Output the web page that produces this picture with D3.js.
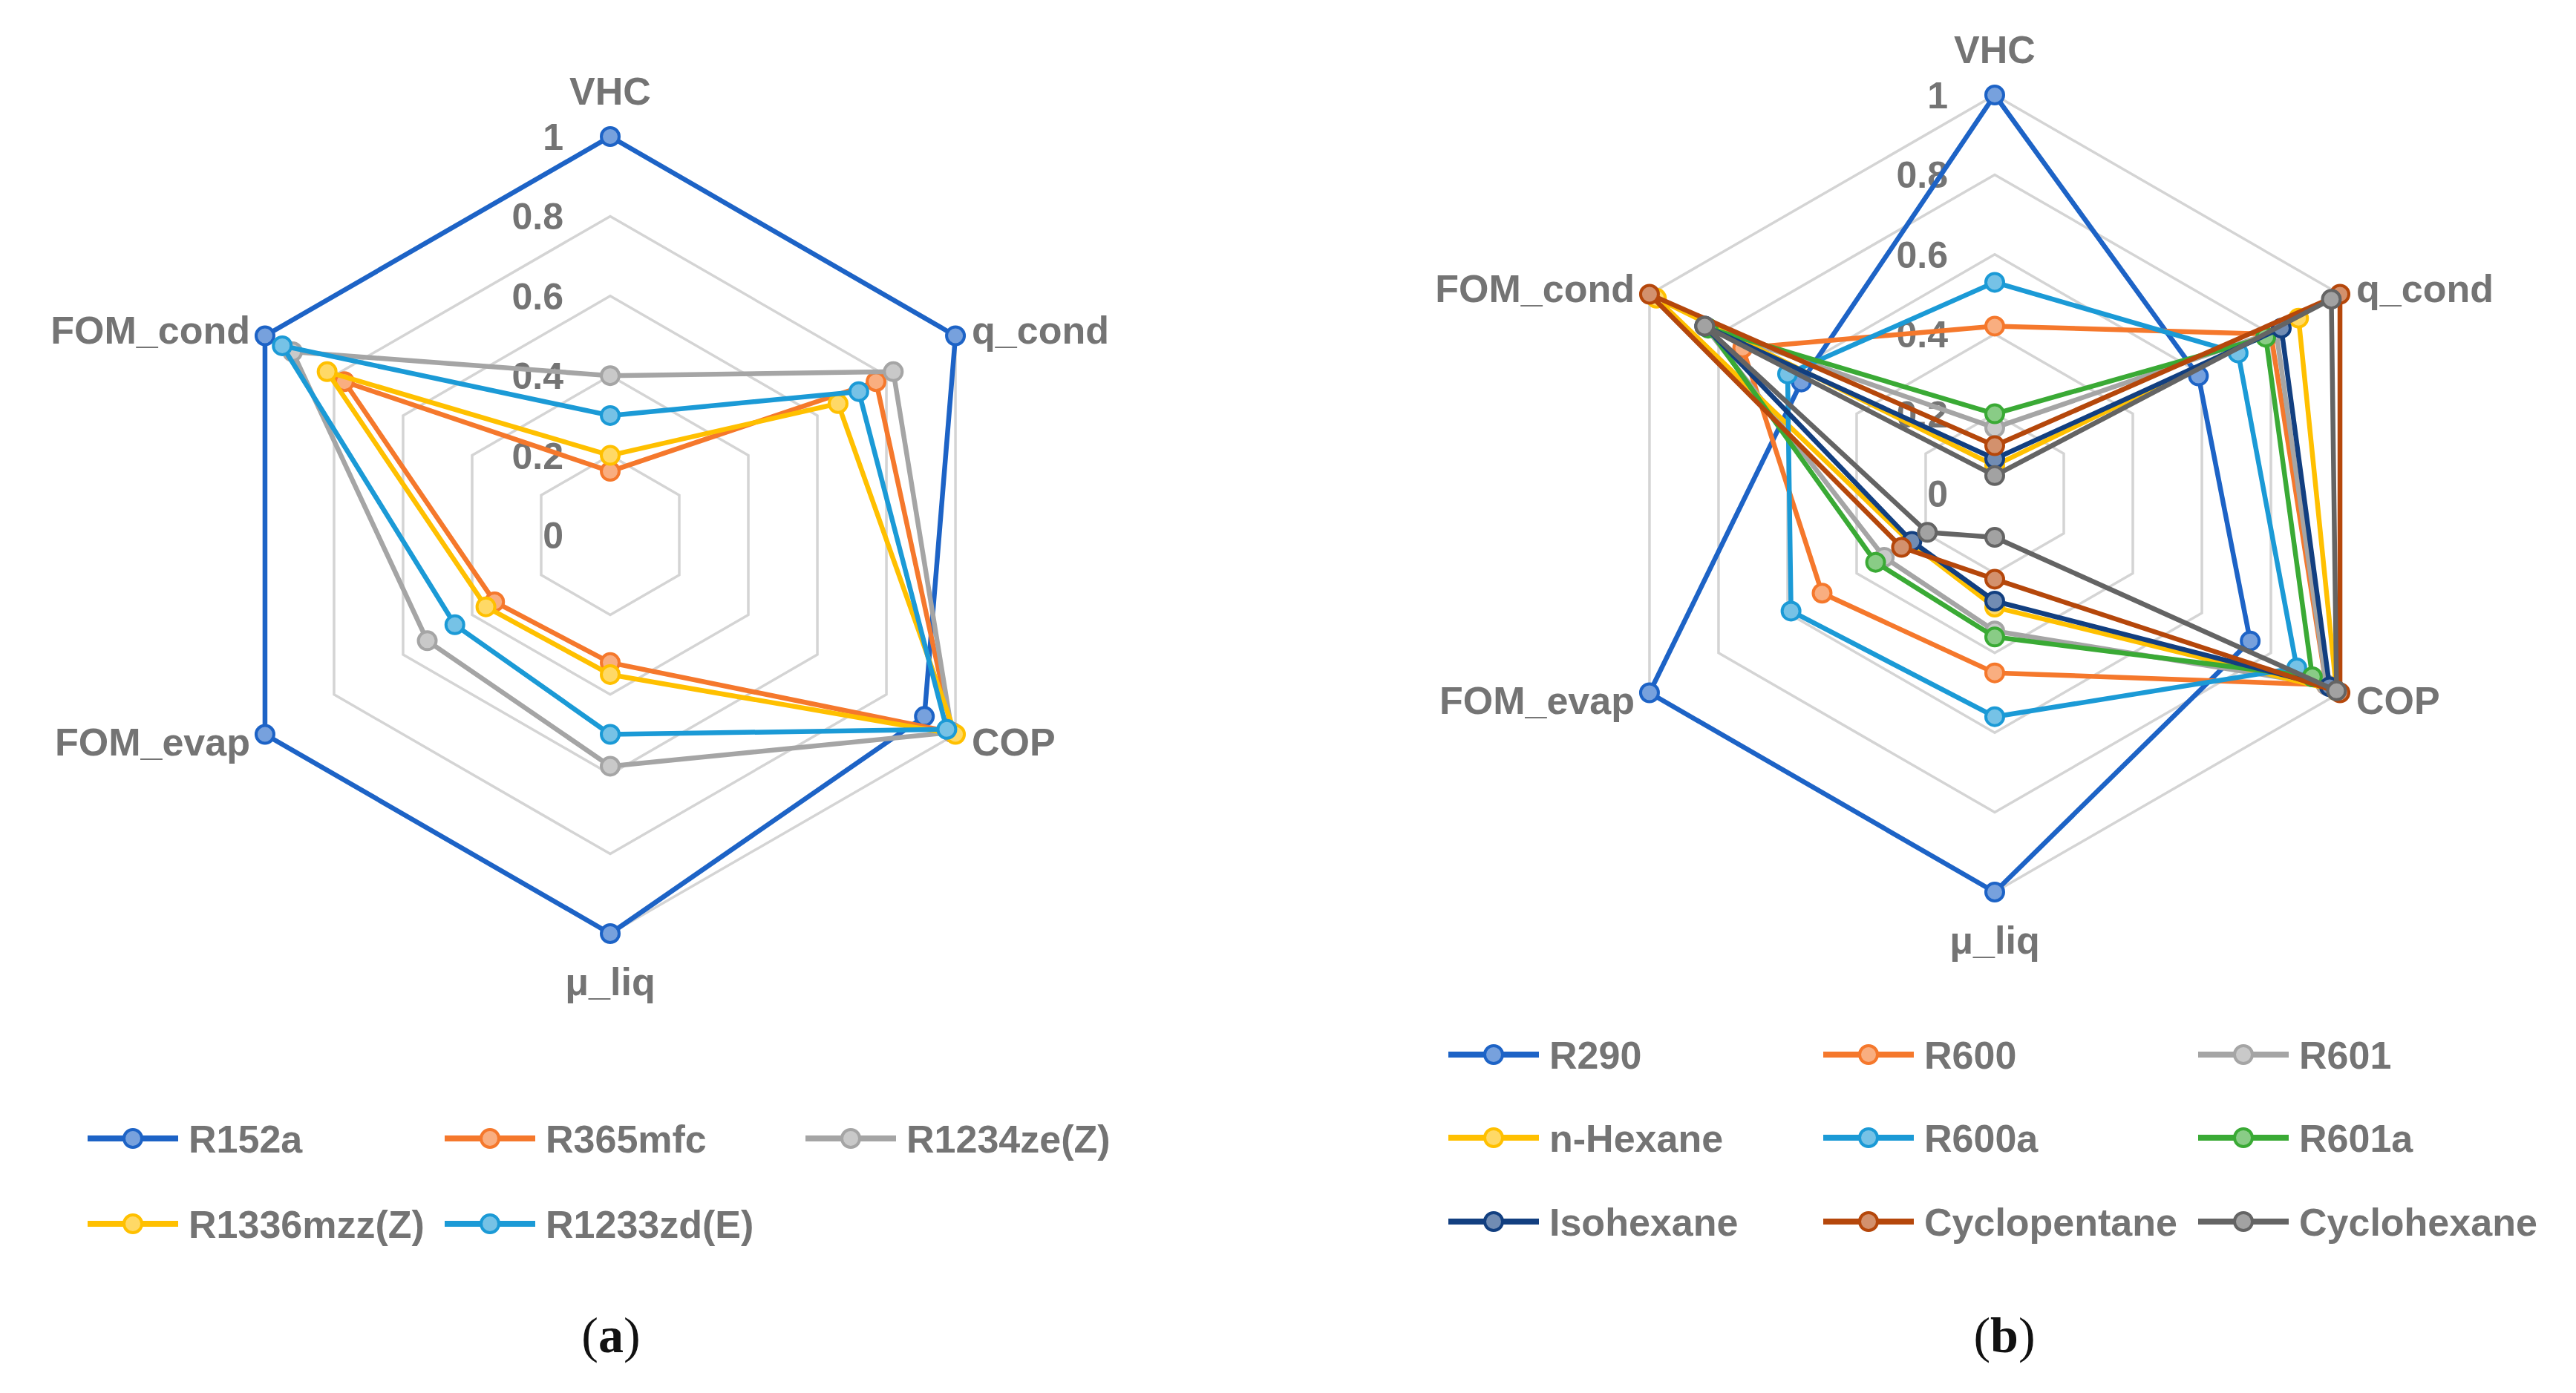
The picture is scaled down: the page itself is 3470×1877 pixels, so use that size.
<!DOCTYPE html>
<html>
<head>
<meta charset="utf-8">
<script src="https://cdn.jsdelivr.net/npm/d3@7"></script>
<style>
  html, body { margin: 0; padding: 0; background: #fff; }
  svg { display: block; }
  .axis-label, .tick-label, .legend-label { font-family: "Liberation Sans", Arial, sans-serif; font-weight: bold; fill: #747474; }
  .caption { font-family: "Liberation Serif", "Times New Roman", serif; fill: #111; }
</style>
</head>
<body>
<svg id="chart" width="3470" height="1877"></svg>
<script>
// axes, clockwise from the top
var axisNames = ["VHC", "q_cond", "COP", "\u03bc_liq", "FOM_evap", "FOM_cond"];
var tickValues = [0, 0.2, 0.4, 0.6, 0.8, 1];

// (a) HFO / HFC fluids
var seriesA = ["R152a", "R365mfc", "R1234ze(Z)", "R1336mzz(Z)", "R1233zd(E)"];
var colorsA = ["#1d63c6", "#f5782c", "#a5a5a5", "#ffc000", "#1b9ad6"];
var valR152a     = [1.00, 1.00, 0.91, 1.00, 1.00, 1.00];
var valR365mfc   = [0.16, 0.77, 0.99, 0.32, 0.335, 0.77];
var valR1234zeZ  = [0.40, 0.82, 0.99, 0.58, 0.53, 0.92];
var valR1336mzzZ = [0.20, 0.66, 1.00, 0.35, 0.36, 0.82];
var valR1233zdE  = [0.30, 0.72, 0.975, 0.50, 0.45, 0.95];

// (b) hydrocarbons
var seriesB = ["R290", "R600", "R601", "n-Hexane", "R600a", "R601a", "Isohexane", "Cyclopentane", "Cyclohexane"];
var colorsB = ["#1d63c6", "#f5782c", "#a5a5a5", "#ffc000", "#1b9ad6", "#3aaa35", "#123f80", "#b5470b", "#646464"];
var valR290         = [1.00, 0.59, 0.74, 1.00, 1.00, 0.56];
var valR600         = [0.42, 0.80, 0.96, 0.45, 0.50, 0.73];
var valR601         = [0.165, 0.815, 0.96, 0.345, 0.32, 0.84];
var valNHexane      = [0.07, 0.88, 0.99, 0.285, 0.245, 0.98];
var valR600a        = [0.53, 0.705, 0.875, 0.56, 0.59, 0.60];
var valR601a        = [0.20, 0.785, 0.92, 0.36, 0.345, 0.83];
var valIsohexane    = [0.087, 0.83, 0.97, 0.27, 0.24, 0.84];
var valCyclopentane = [0.12, 1.00, 1.00, 0.215, 0.27, 1.00];
var valCyclohexane  = [0.045, 0.975, 0.99, 0.11, 0.195, 0.84];

var valuesA = [valR152a, valR365mfc, valR1234zeZ, valR1336mzzZ, valR1233zdE];
var valuesB = [valR290, valR600, valR601, valNHexane, valR600a, valR601a, valIsohexane, valCyclopentane, valCyclohexane];

var svg = d3.select("#chart");
svg.append("rect").attr("width", 3470).attr("height", 1877).attr("fill", "#fff");

function radar(opts) {
  var R = 537;
  var r = d3.scaleLinear().domain([0, 1]).range([0, R]);
  var angle = d3.scalePoint().domain(d3.range(axisNames.length + 1)).range([0, 2 * Math.PI]);
  var g = svg.append("g").attr("transform", "translate(" + opts.cx + "," + opts.cy + ")");

  var ring = d3.lineRadial()
    .angle(function (d, i) { return angle(i); })
    .radius(function (d) { return r(d); })
    .curve(d3.curveLinearClosed);

  g.selectAll(".grid").data(tickValues.slice(1)).enter().append("path")
    .attr("d", function (v) { return ring(axisNames.map(function () { return v; })); })
    .attr("fill", "none").attr("stroke", "#d4d4d4").attr("stroke-width", 3.5);

  g.selectAll(".tick-label").data(tickValues).enter().append("text")
    .attr("class", "tick-label")
    .attr("x", -63).attr("y", function (v) { return -r(v); })
    .attr("dy", "0.36em").attr("text-anchor", "end")
    .attr("font-size", 50)
    .text(d3.format("~g"));

  axisNames.forEach(function (name, i) {
    var a = angle(i);
    var x = Math.sin(a) * R, y = -Math.cos(a) * R;
    var t = g.append("text").attr("class", "axis-label").attr("font-size", 52).text(name);
    if (i === 0) t.attr("x", x).attr("y", y - 62).attr("dy", "0.36em").attr("text-anchor", "middle");
    else if (i === 3) t.attr("x", x).attr("y", y + 64).attr("dy", "0.36em").attr("text-anchor", "middle");
    else if (x > 0) t.attr("x", x + 22).attr("y", y + (y < 0 ? -8 : 10)).attr("dy", "0.36em").attr("text-anchor", "start");
    else t.attr("x", x - 20).attr("y", y + (y < 0 ? -8 : 10)).attr("dy", "0.36em").attr("text-anchor", "end");
  });

  opts.values.forEach(function (vals, k) {
    var c = opts.colors[k];
    var s = g.append("g");
    s.append("path").attr("d", ring(vals))
      .attr("fill", "none").attr("stroke", c).attr("stroke-width", 6.5).attr("stroke-linejoin", "round");
    s.selectAll("circle").data(vals).enter().append("circle")
      .attr("cx", function (d, i) { return Math.sin(angle(i)) * r(d); })
      .attr("cy", function (d, i) { return -Math.cos(angle(i)) * r(d); })
      .attr("r", 12)
      .attr("fill", d3.interpolateRgb(c, "#ffffff")(0.4))
      .attr("stroke", c).attr("stroke-width", 4);
  });

  var lg = svg.append("g");
  opts.series.forEach(function (name, k) {
    var col = k % 3, row = Math.floor(k / 3);
    var x0 = opts.legendX[col], y0 = opts.legendY[row];
    var c = opts.colors[k];
    var item = lg.append("g").attr("transform", "translate(" + x0 + "," + y0 + ")");
    item.append("line").attr("x1", 0).attr("x2", 122).attr("y1", 0).attr("y2", 0)
      .attr("stroke", c).attr("stroke-width", 8);
    item.append("circle").attr("cx", 61).attr("cy", 0).attr("r", 12)
      .attr("fill", d3.interpolateRgb(c, "#ffffff")(0.4)).attr("stroke", c).attr("stroke-width", 4);
    item.append("text").attr("class", "legend-label").attr("x", 136).attr("y", 0)
      .attr("dy", "0.36em").attr("font-size", 52).text(name);
  });

  var cap = svg.append("text").attr("class", "caption")
    .attr("x", opts.capX).attr("y", 1822).attr("text-anchor", "middle").attr("font-size", 68);
  cap.append("tspan").text("(");
  cap.append("tspan").attr("font-weight", "bold").text(opts.capLetter);
  cap.append("tspan").text(")");
}

radar({ cx: 822, cy: 721, series: seriesA, colors: colorsA, values: valuesA,
  legendX: [118, 599, 1085], legendY: [1534, 1649], capX: 823, capLetter: "a" });
radar({ cx: 2687, cy: 665, series: seriesB, colors: colorsB, values: valuesB,
  legendX: [1951, 2456, 2961], legendY: [1421, 1533, 1646], capX: 2700, capLetter: "b" });
</script>
</body>
</html>
